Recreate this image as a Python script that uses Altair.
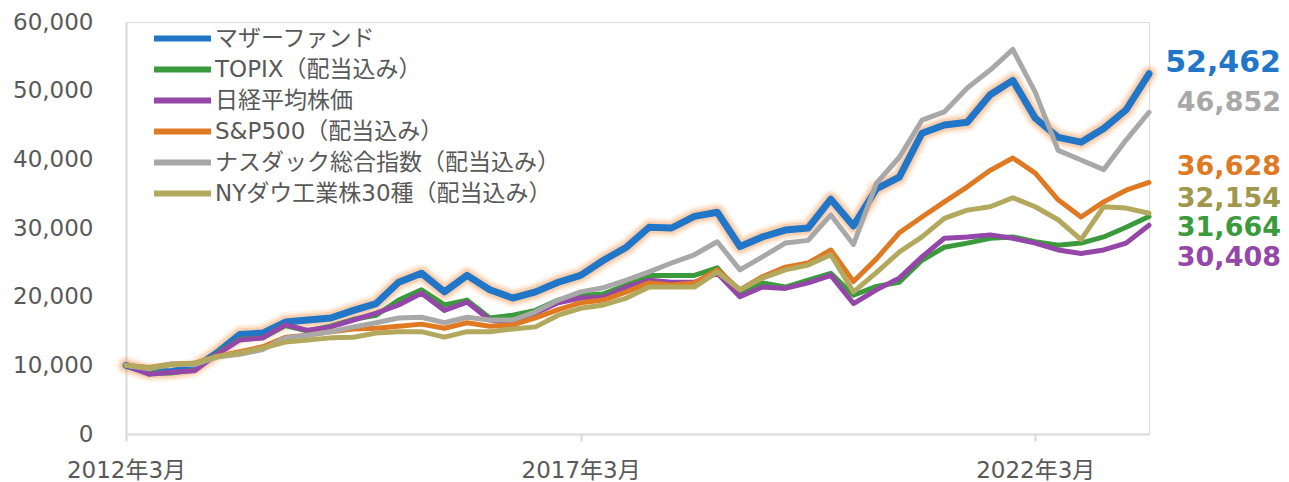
import altair as alt
import pandas as pd

# ---------------- data ----------------
dates = pd.date_range("2012-03-01", "2023-06-01", freq="3MS").strftime("%Y-%m-%d").tolist()

series_names = [
    "マザーファンド",
    "TOPIX（配当込み）",
    "日経平均株価",
    "S&P500（配当込み）",
    "ナスダック総合指数（配当込み）",
    "NYダウ工業株30種（配当込み）",
]

fund = [10000, 9000, 9100, 9600, 11800, 14500, 14700, 16300, 16600, 16900,
        18000, 19000, 22100, 23400, 20700, 23100, 21000, 19800, 20700, 22100,
        23100, 25300, 27200, 30100, 30000, 31700, 32300, 27300, 28700, 29700,
        30000, 34200, 30300, 35700, 37400, 43800, 45000, 45400, 49400, 51500,
        46000, 43200, 42500, 44500, 47200, 52462]
topix = [10000, 8900, 8900, 9300, 11700, 13800, 14000, 15800, 15000, 15700,
         16700, 17300, 19500, 21000, 18800, 19500, 16900, 17300, 18000, 19500,
         20200, 20400, 21700, 23100, 23100, 23100, 24200, 20500, 22000, 21400,
         22400, 23400, 20200, 21500, 22100, 25300, 27200, 27800, 28500, 28700,
         28000, 27500, 27800, 28700, 30100, 31664]
nikkei = [10000, 8700, 9000, 9200, 11600, 13700, 14000, 15900, 15100, 15600,
          16600, 17600, 18800, 20500, 18000, 19200, 16600, 16200, 17600, 19100,
          19800, 19900, 21400, 22400, 22100, 22100, 23400, 20000, 21400, 21200,
          22000, 23100, 19000, 21000, 22700, 25800, 28500, 28700, 29000, 28500,
          27800, 26800, 26300, 26800, 27800, 30408]
sp500 = [10000, 9700, 10200, 10300, 11300, 12000, 12700, 14100, 14400, 14900,
         15300, 15400, 15700, 16000, 15400, 16200, 15700, 15900, 16900, 18100,
         19100, 19500, 20700, 22000, 21700, 22000, 23900, 21000, 22900, 24300,
         24900, 26800, 22200, 25500, 29300, 31600, 33800, 36000, 38400, 40200,
         38000, 34100, 31600, 33800, 35500, 36628]
nasdaq = [10000, 9500, 10200, 10100, 11200, 11600, 12300, 14000, 14400, 14900,
          15600, 16200, 16900, 17000, 16200, 17000, 16600, 16600, 17800, 19500,
          20700, 21300, 22400, 23600, 24900, 26100, 28000, 23900, 25800, 27800,
          28200, 31900, 27600, 36500, 40300, 45700, 46900, 50400, 53000, 56000,
          49800, 41300, 39900, 38500, 42800, 46852]
dow = [10000, 9600, 10100, 10300, 11300, 11800, 12500, 13400, 13700, 14000,
       14100, 14700, 14900, 14900, 14100, 14900, 14900, 15300, 15600, 17300,
       18300, 18800, 19800, 21400, 21400, 21400, 23600, 21000, 22700, 23900,
       24600, 26100, 20700, 23500, 26500, 28700, 31400, 32600, 33100, 34400,
       33100, 31200, 28300, 33100, 32900, 32154]

all_values = [fund, topix, nikkei, sp500, nasdaq, dow]

line_colors = ["#2176c7", "#3a9a3c", "#9447a8", "#e07a22", "#a8a8a8", "#b2a95f"]
label_colors = ["#2176c7", "#a8a8a8", "#e07a22", "#9e974c", "#3a9a3c", "#9447a8"]
label_order = [0, 4, 3, 5, 1, 2]          # order of the end labels, top to bottom
label_dy = [-11, -9, -15, -14, 11, 33]    # nudges that keep the end labels apart
label_size = [30, 27, 27, 27, 27, 27]

rows = []
for name, vals in zip(series_names, all_values):
    for d, v in zip(dates, vals):
        rows.append({"date": d, "series": name, "value": v})
df = pd.DataFrame(rows)

FONT = "DejaVu Sans, 'Noto Sans CJK JP', sans-serif"
TXT = "#595959"
AX = "#d9d9d9"

x_enc = alt.X(
    "date:T",
    scale=alt.Scale(domain=[alt.DateTime(year=2012, month=3, date=1),
                            alt.DateTime(year=2023, month=6, date=1)]),
    axis=alt.Axis(
        title=None, grid=False, format="%Y年%-m月", labelFlush=False,
        values=[alt.DateTime(year=2012, month=3, date=1),
                alt.DateTime(year=2017, month=3, date=1),
                alt.DateTime(year=2022, month=3, date=1)],
        domainColor=AX, domainWidth=2, tickColor=AX, tickWidth=2, tickSize=7,
        labelPadding=18, labelFontSize=23, labelColor=TXT, labelFont=FONT,
    ),
)
y_enc = alt.Y(
    "value:Q",
    scale=alt.Scale(domain=[0, 60000]),
    axis=alt.Axis(
        title=None, grid=False, ticks=False, format=",.0f",
        values=[0, 10000, 20000, 30000, 40000, 50000, 60000],
        domainColor=AX, domainWidth=2, labelPadding=33,
        labelFontSize=23, labelColor=TXT, labelFont=FONT,
    ),
)
color_enc = alt.Color(
    "series:N",
    scale=alt.Scale(domain=series_names, range=line_colors),
    legend=alt.Legend(
        title=None, orient="none", legendX=44, legendY=4,
        symbolType="M-3,0L3,0", symbolSize=361, symbolStrokeWidth=6,
        labelFont=FONT, labelFontSize=23, labelColor=TXT,
        labelOffset=20, rowPadding=6, labelLimit=500,
    ),
)

fund_df = df[df["series"] == series_names[0]]

layers = []
# soft orange glow around the fund line
for w, op in [(20, 0.10), (16, 0.16), (12, 0.28)]:
    layers.append(
        alt.Chart(fund_df).mark_line(strokeWidth=w, opacity=op, color="#f59a52",
                                     strokeCap="round", strokeJoin="round")
        .encode(x=x_enc, y=y_enc)
    )
for i, name in enumerate(series_names):
    sub = df[df["series"] == name]
    layers.append(
        alt.Chart(sub).mark_line(strokeWidth=7 if i == 0 else 5,
                                 strokeCap="round", strokeJoin="round")
        .encode(x=x_enc, y=y_enc, color=color_enc)
    )
for k, idx in enumerate(label_order):
    name = series_names[idx]
    last = df[df["series"] == name].tail(1).copy()
    last["label"] = last["value"].map(lambda v: f"{v:,}")
    layers.append(
        alt.Chart(last).mark_text(align="right", baseline="middle", dx=132, dy=label_dy[k],
                                  font=FONT, fontWeight="bold", fontSize=label_size[k],
                                  color=label_colors[k])
        .encode(x=x_enc, y=y_enc, text="label:N")
    )

chart = alt.layer(*layers).properties(
    width=1023, height=412,
    autosize=alt.AutoSizeParams(type="none"),
    padding={"left": 118, "top": 14, "right": 132, "bottom": 48},
).configure_view(stroke=None).configure(font=FONT)

chart.save("out.html", embed_options={"renderer": "svg", "actions": False})
